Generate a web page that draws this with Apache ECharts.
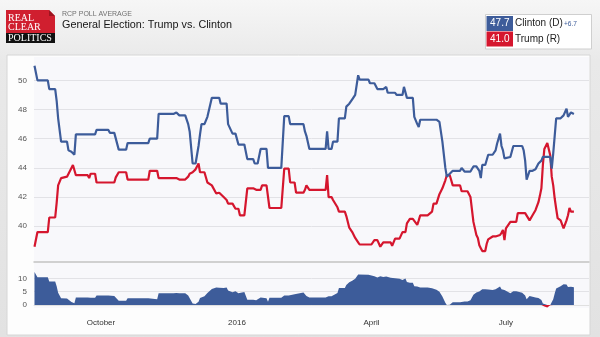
<!DOCTYPE html>
<html><head><meta charset="utf-8">
<script src="https://cdn.jsdelivr.net/npm/echarts@6/dist/echarts.min.js"></script>
<style>html,body{margin:0;padding:0;background:#e6e6e6}#c{width:600px;height:337px}</style>
</head><body><div id="c"></div>
<script>
const dates = ['2015-08-17','2015-08-19','2015-08-26','2015-08-27','2015-08-31','2015-09-01','2015-09-02','2015-09-04','2015-09-05','2015-09-08',
'2015-09-09','2015-09-11','2015-09-12','2015-09-13','2015-09-14','2015-09-22','2015-09-23','2015-09-24','2015-09-27','2015-09-28',
'2015-10-06','2015-10-07','2015-10-10','2015-10-11','2015-10-13','2015-10-18','2015-10-19','2015-11-02','2015-11-03','2015-11-08',
'2015-11-09','2015-11-19','2015-11-20','2015-11-21','2015-11-23','2015-11-27','2015-11-29','2015-11-30','2015-12-02','2015-12-04',
'2015-12-06','2015-12-07','2015-12-08','2015-12-10','2015-12-12','2015-12-15','2015-12-18','2015-12-20','2015-12-21','2015-12-23',
'2015-12-24','2015-12-25','2015-12-26','2015-12-27','2015-12-29','2015-12-31','2016-01-01','2016-01-02','2016-01-03','2016-01-06',
'2016-01-08','2016-01-12','2016-01-13','2016-01-14','2016-01-15','2016-01-17','2016-01-18','2016-01-21','2016-01-22','2016-01-23',
'2016-01-31','2016-02-02','2016-02-05','2016-02-06','2016-02-09','2016-02-10','2016-02-15','2016-02-16','2016-02-17','2016-02-19',
'2016-03-01','2016-03-02','2016-03-03','2016-03-05','2016-03-06','2016-03-09','2016-03-10','2016-03-14','2016-03-15','2016-03-17',
'2016-03-18','2016-03-19','2016-03-21','2016-03-23','2016-03-24','2016-03-30','2016-03-31','2016-04-01','2016-04-03','2016-04-05',
'2016-04-07','2016-04-09','2016-04-10','2016-04-11','2016-04-12','2016-04-14','2016-04-15','2016-04-17','2016-04-18','2016-04-20',
'2016-04-22','2016-04-23','2016-04-24','2016-04-25','2016-04-27','2016-04-29','2016-04-30','2016-05-02','2016-05-03','2016-05-04',
'2016-05-09','2016-05-12','2016-05-13','2016-05-15','2016-05-17','2016-05-19','2016-05-21','2016-05-22','2016-05-24','2016-05-26',
'2016-05-31','2016-06-01','2016-06-03','2016-06-05','2016-06-07','2016-06-09','2016-06-11','2016-06-12','2016-06-13','2016-06-14',
'2016-06-15','2016-06-17','2016-06-18','2016-06-19','2016-06-20','2016-06-22','2016-06-24','2016-06-25','2016-06-27','2016-06-28',
'2016-06-29','2016-06-30','2016-07-01','2016-07-04','2016-07-06','2016-07-08','2016-07-09','2016-07-12','2016-07-13','2016-07-14',
'2016-07-15','2016-07-17','2016-07-19','2016-07-21','2016-07-23','2016-07-24','2016-07-25','2016-07-26','2016-07-27','2016-07-29',
'2016-07-30','2016-07-31','2016-08-01','2016-08-02','2016-08-03','2016-08-04','2016-08-05','2016-08-07','2016-08-08','2016-08-09',
'2016-08-11','2016-08-12','2016-08-13','2016-08-14','2016-08-16'];
const clinton = [51.0,50.0,50.0,49.4,49.4,48.6,47.4,45.8,45.8,45.8,
45.2,45.1,45.0,44.9,46.3,46.3,46.3,46.3,46.3,46.6,
46.6,46.4,46.4,46.4,45.25,45.25,45.7,45.7,46.0,46.0,
47.7,47.7,47.8,47.8,47.6,47.6,47.0,46.5,44.3,44.3,
45.5,46.3,47.0,47.0,47.5,48.8,48.8,48.8,48.4,48.4,
48.4,48.4,47.0,47.0,46.35,46.35,46.35,45.6,45.6,45.6,
44.6,44.6,44.3,44.3,44.3,45.3,45.3,45.3,44.0,44.0,
44.0,47.55,47.55,47.0,47.0,47.0,47.0,46.5,46.2,45.3,
45.3,46.5,45.3,45.3,45.8,45.8,47.4,47.4,48.2,48.4,
48.5,48.7,49.0,50.35,50.05,50.05,49.8,49.8,49.8,49.4,
49.4,49.4,49.4,49.55,49.15,49.15,49.15,49.15,49.0,49.0,
49.0,49.55,49.55,48.8,48.8,48.8,47.5,47.0,46.8,47.3,
47.3,47.3,47.3,47.3,47.15,45.8,44.0,43.4,43.6,43.8,
43.8,44.0,43.75,43.75,43.75,44.1,44.1,44.1,43.8,43.3,
44.2,44.2,44.2,44.9,44.9,44.9,45.2,45.65,46.35,45.5,
45.2,44.65,44.7,44.75,45.5,45.5,45.5,45.5,45.2,44.5,
43.2,43.8,43.8,43.9,44.3,44.4,44.5,44.75,44.75,44.75,
44.75,44.75,43.95,45.0,46.2,47.4,47.4,47.4,47.5,47.6,
48.05,47.5,47.6,47.8,47.7];
const trump = [38.6,39.6,39.6,40.6,40.6,41.6,42.8,43.3,43.4,43.4,
43.4,44.0,44.2,44.2,43.5,43.5,43.3,43.6,43.6,43.0,
43.0,43.0,43.0,43.35,43.7,43.7,43.2,43.2,43.8,43.8,
43.3,43.3,43.3,43.3,43.2,43.2,43.4,43.6,43.7,43.9,
44.3,43.7,43.7,43.7,43.0,42.8,42.25,42.3,42.35,42.0,
42.0,41.8,41.55,41.55,41.55,41.2,41.2,41.2,40.75,40.75,
42.6,42.6,42.6,42.5,42.5,42.5,42.8,42.8,42.8,41.25,
41.25,43.95,43.95,43.0,43.0,42.3,42.3,42.5,42.8,42.5,
42.5,43.5,42.0,42.0,41.8,41.3,41.0,41.0,40.7,39.9,
39.8,39.6,39.2,38.9,38.75,38.75,38.75,38.75,39.05,39.05,
38.6,38.9,38.9,38.9,38.9,38.9,38.65,39.15,39.15,39.15,
39.6,39.6,39.6,40.2,40.5,40.5,40.5,40.1,40.4,40.75,
40.75,41.0,41.55,41.55,42.2,42.6,43.15,43.5,43.5,42.8,
42.8,42.4,42.4,42.4,42.0,40.3,39.4,39.2,38.7,38.5,
38.3,38.3,38.8,39.1,39.0,39.3,39.3,39.35,39.4,39.55,
39.75,39.05,39.85,40.3,40.3,40.3,40.9,40.9,40.9,40.9,
41.0,40.4,40.75,41.1,41.65,42.1,42.6,44.2,45.3,45.7,
45.7,44.85,43.4,42.8,41.9,41.2,40.55,40.4,40.5,39.85,
40.4,40.75,41.25,41.0,41.0];
const yTicks = [40, 42, 44, 46, 48, 50];
const spreadTicks = [0, 5, 10];
const xTickDates = ['2015-10-01', '2016-01-01', '2016-04-01', '2016-07-01'];
const xTickLabels = ['October', '2016', 'April', 'July'];

const toTime = s => { const p = s.split('-').map(Number); return new Date(p[0], p[1] - 1, p[2]).getTime(); };
const times = dates.map(toTime);
const xTickTimes = xTickDates.map(toTime);
const spread = clinton.map((c, i) => +(c - trump[i]).toFixed(2));
const blue = '#3d5c9a', red = '#d5162e';
const xMin = new Date(2015, 7, 16, 16).getTime();
const xMax = new Date(2016, 7, 26, 5).getTime();
const lastC = clinton[clinton.length - 1], lastT = trump[trump.length - 1];
const font = 'Liberation Sans';

const txt = (text, x, y, size, fill, extra) => ({
  type: 'text', z: 30, style: Object.assign({ text, x, y, fill, fontSize: size, fontFamily: font,
    align: 'left', verticalAlign: 'middle', textAlign: 'left', textVerticalAlign: 'middle' }, extra || {})
});

const chart = echarts.init(document.getElementById('c'));
chart.setOption({
  animation: false,
  backgroundColor: 'transparent',
  textStyle: { fontFamily: font },
  graphic: [
    { type: 'rect', z: -10, shape: { x: 0, y: 0, width: 600, height: 337 },
      style: { fill: new echarts.graphic.LinearGradient(0, 0, 0, 1, [{ offset: 0, color: '#f6f6f6' }, { offset: 0.18, color: '#e9e9e9' }, { offset: 1, color: '#e2e2e2' }]) } },
    { type: 'rect', z: -9, shape: { x: 7, y: 55, width: 583, height: 280 }, style: { fill: '#fdfdfd', stroke: '#d6d6d6', lineWidth: 1 } },
    { type: 'rect', z: 20, shape: { x: 6, y: 10, width: 49, height: 23 }, style: { fill: '#d01f2f' } },
    { type: 'polygon', z: 21, shape: { points: [[49, 10], [55, 10], [55, 16]] }, style: { fill: '#f1f1f1' } },
    { type: 'polygon', z: 21, shape: { points: [[49, 10], [55, 16], [49, 16]] }, style: { fill: '#9c1420' } },
    { type: 'rect', z: 20, shape: { x: 6, y: 33, width: 49, height: 10 }, style: { fill: '#111111' } },
    txt('REAL', 8, 18.5, 10, '#ffffff', { fontFamily: 'Liberation Serif' }),
    txt('CLEAR', 8, 27.5, 10, '#ffffff', { fontFamily: 'Liberation Serif' }),
    txt('POLITICS', 8, 38.3, 10, '#ffffff', { fontFamily: 'Liberation Serif' }),
    txt('RCP POLL AVERAGE', 62, 14.5, 7, '#707070'),
    txt('General Election: Trump vs. Clinton', 62, 25.5, 10.8, '#151515'),
    { type: 'rect', z: 20, shape: { x: 485.5, y: 14.5, width: 106, height: 34.5 }, style: { fill: '#ffffff', stroke: '#cfcfcf', lineWidth: 1 } },
    { type: 'rect', z: 21, shape: { x: 486.5, y: 16, width: 26.5, height: 15 }, style: { fill: blue } },
    { type: 'rect', z: 21, shape: { x: 486.5, y: 31.5, width: 26.5, height: 15 }, style: { fill: red } },
    txt(lastC.toFixed(1), 499.75, 23.7, 10, '#ffffff', { align: 'center', textAlign: 'center' }),
    txt(lastT.toFixed(1), 499.75, 39.2, 10, '#ffffff', { align: 'center', textAlign: 'center' }),
    txt('Clinton (D)', 515, 23.5, 10, '#222222'),
    txt('+' + (lastC - lastT).toFixed(1), 564, 24.5, 6.6, blue),
    txt('Trump (R)', 515, 39, 10, '#222222')
  ],
  grid: [
    { left: 34, right: 11, top: 57, height: 205, show: true, backgroundColor: '#f8f8fb', borderWidth: 0 },
    { left: 34, right: 11, top: 262, height: 46, show: true, backgroundColor: '#f8f8fb', borderWidth: 0 }
  ],
  xAxis: [
    { type: 'value', gridIndex: 0, min: xMin, max: xMax,
      axisLine: { show: true, lineStyle: { color: '#c2c2c2', width: 1.5 } },
      axisTick: { show: false }, axisLabel: { show: false }, splitLine: { show: false } },
    { type: 'value', gridIndex: 1, min: xMin, max: xMax,
      axisLine: { show: true, lineStyle: { color: '#e0e0e0', width: 1 } },
      axisTick: { show: false, customValues: xTickTimes }, splitLine: { show: false },
      axisLabel: { customValues: xTickTimes, color: '#333', fontSize: 8, margin: 11,
        formatter: v => { const i = xTickTimes.findIndex(t => Math.abs(t - v) < 43200000); return i >= 0 ? xTickLabels[i] : ''; } } }
  ],
  yAxis: [
    { type: 'value', gridIndex: 0, min: 37.55, max: 51.6,
      axisLine: { show: false }, axisTick: { show: false, customValues: yTicks },
      axisLabel: { customValues: yTicks, color: '#555', fontSize: 8, margin: 7 },
      splitLine: { show: true, lineStyle: { color: '#e2e2e6', width: 1 } } },
    { type: 'value', gridIndex: 1, min: -1.125, max: 16.125,
      axisLine: { show: false }, axisTick: { show: false, customValues: spreadTicks },
      axisLabel: { customValues: spreadTicks, color: '#555', fontSize: 8, margin: 7 },
      splitLine: { show: true, lineStyle: { color: '#e2e2e6', width: 1 } } }
  ],
  series: [
    { name: 'Spread+', type: 'line', xAxisIndex: 1, yAxisIndex: 1, showSymbol: false, z: 2,
      data: times.map((t, i) => [t, Math.max(spread[i], 0)]),
      lineStyle: { width: 0, opacity: 0 }, areaStyle: { color: blue, opacity: 1, origin: 0 } },
    { name: 'Spread-', type: 'line', xAxisIndex: 1, yAxisIndex: 1, showSymbol: false, z: 2,
      data: times.map((t, i) => [t, Math.min(spread[i], 0)]),
      lineStyle: { width: 0, opacity: 0 }, areaStyle: { color: red, opacity: 1, origin: 0 } },
    { name: 'Trump (R)', type: 'line', xAxisIndex: 0, yAxisIndex: 0, showSymbol: false, z: 3,
      data: times.map((t, i) => [t, trump[i]]), lineStyle: { color: red, width: 2.2 }, itemStyle: { color: red } },
    { name: 'Clinton (D)', type: 'line', xAxisIndex: 0, yAxisIndex: 0, showSymbol: false, z: 4,
      data: times.map((t, i) => [t, clinton[i]]), lineStyle: { color: blue, width: 2.2 }, itemStyle: { color: blue } }
  ]
});
</script></body></html>
